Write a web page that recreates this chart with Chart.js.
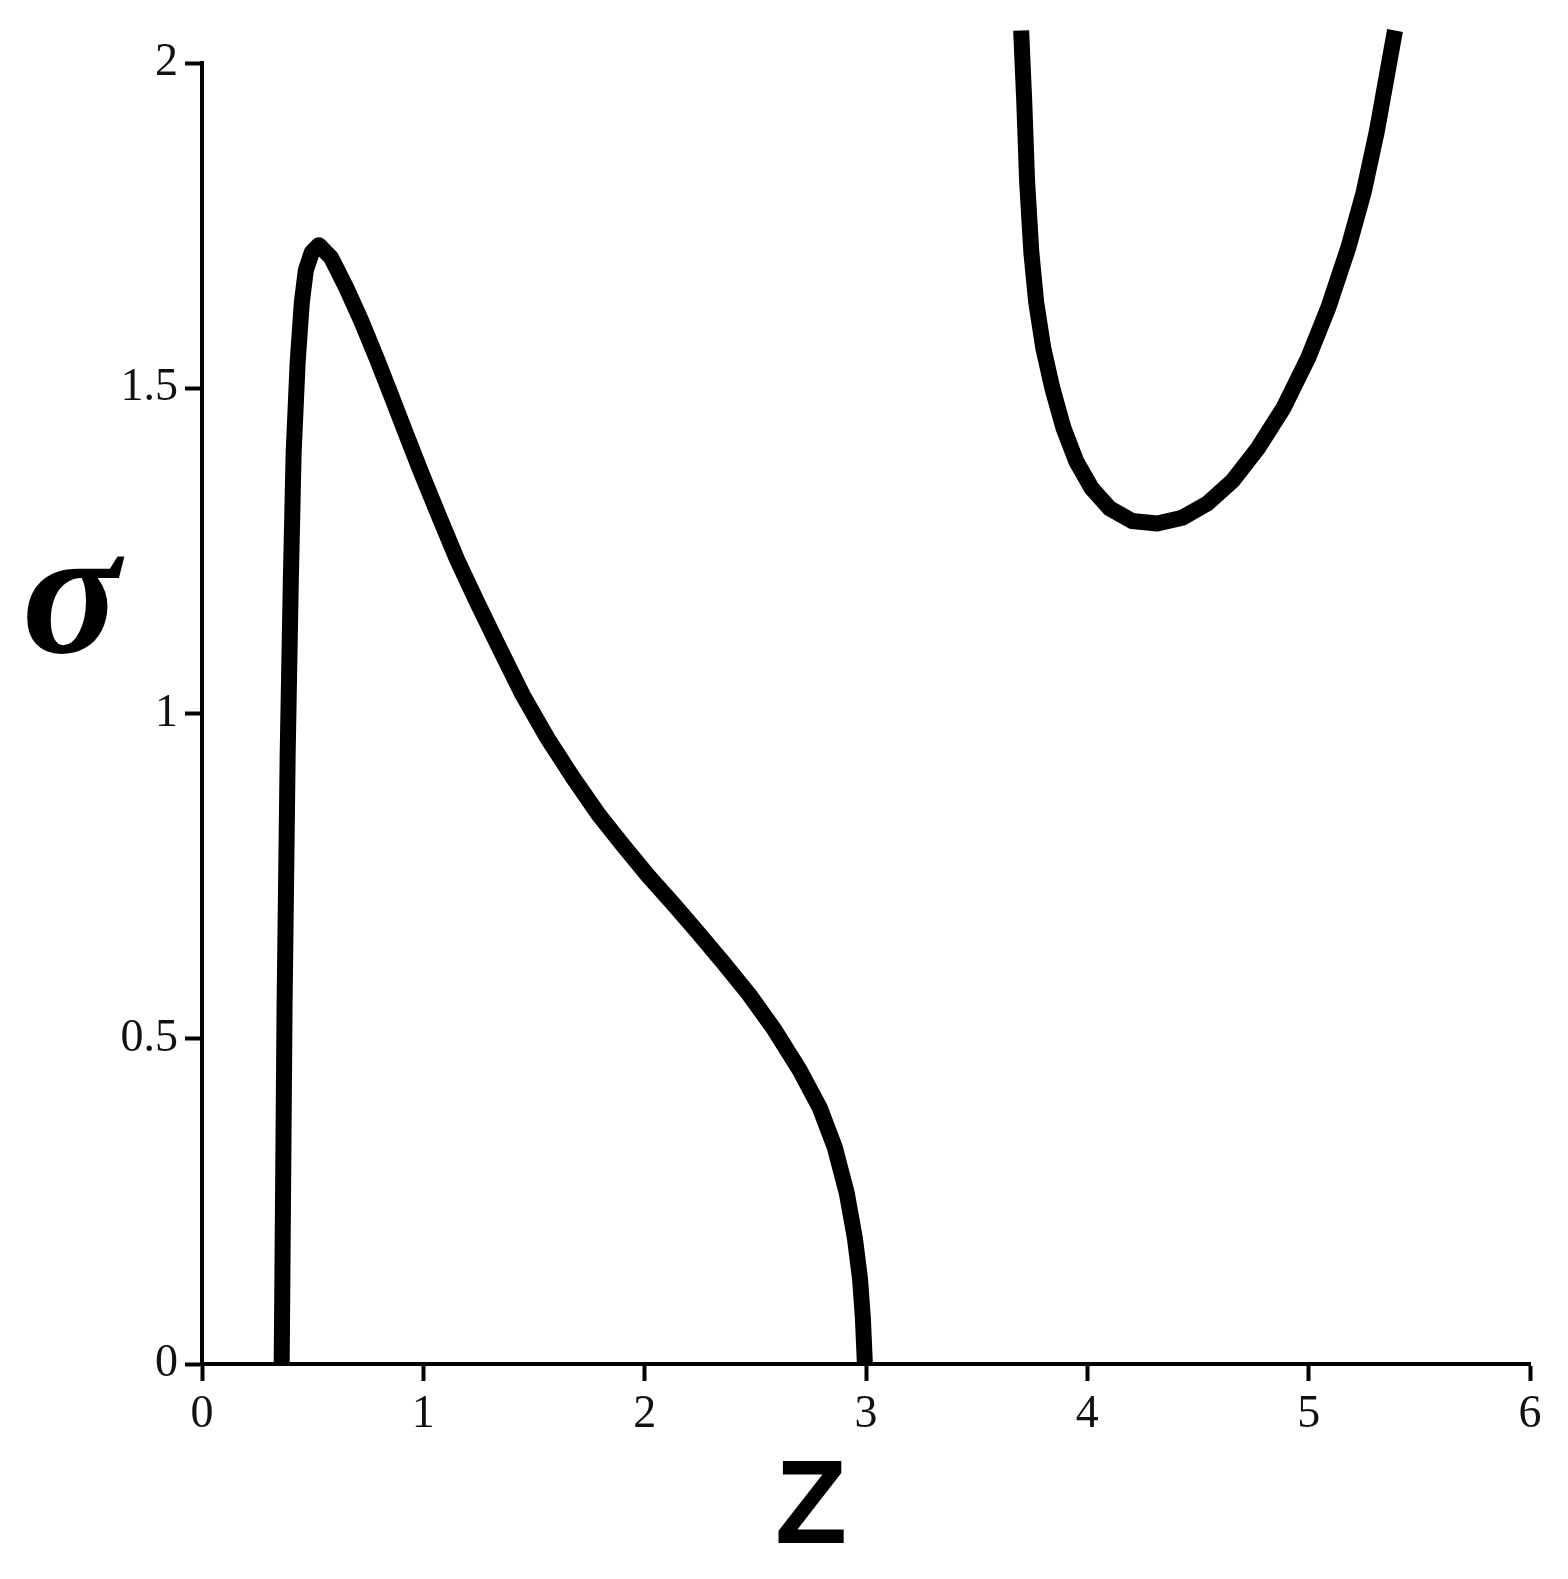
<!DOCTYPE html>
<html>
<head>
<meta charset="utf-8">
<script src="https://cdn.jsdelivr.net/npm/chart.js@4/dist/chart.umd.min.js"></script>
<style>
  html, body { margin: 0; padding: 0; background: #fff; }
  canvas { display: block; }
</style>
</head>
<body>
<canvas id="sigmaChart" width="1568" height="1579"></canvas>
<script>
// values (z, sigma)
const branchZ = [0.36, 0.373, 0.387, 0.401, 0.414, 0.432, 0.451, 0.469, 0.496, 0.528, 0.583, 0.651, 0.719, 0.788, 0.856, 0.924, 0.992, 1.07, 1.152, 1.243, 1.343, 1.448, 1.561, 1.675, 1.789, 1.903, 2.017, 2.13, 2.244, 2.358, 2.472, 2.586, 2.7, 2.791, 2.859, 2.913, 2.95, 2.973, 2.986, 2.995];
const branchSigma = [0, 0.549, 0.936, 1.199, 1.4, 1.539, 1.632, 1.681, 1.709, 1.72, 1.701, 1.655, 1.604, 1.547, 1.488, 1.428, 1.369, 1.304, 1.237, 1.171, 1.101, 1.029, 0.962, 0.902, 0.846, 0.797, 0.75, 0.707, 0.662, 0.616, 0.568, 0.514, 0.452, 0.394, 0.333, 0.263, 0.193, 0.131, 0.07, 0];

const upperZ = [3.701, 3.715, 3.728, 3.747, 3.769, 3.801, 3.842, 3.892, 3.951, 4.02, 4.102, 4.202, 4.316, 4.429, 4.543, 4.657, 4.771, 4.885, 4.998, 5.089, 5.18, 5.249, 5.308, 5.353, 5.39];
const upperSigma = [2.05, 1.941, 1.817, 1.709, 1.632, 1.562, 1.5, 1.439, 1.387, 1.346, 1.315, 1.296, 1.292, 1.301, 1.323, 1.358, 1.408, 1.469, 1.547, 1.624, 1.717, 1.802, 1.895, 1.98, 2.05];

const xTickLabels = ["0", "1", "2", "3", "4", "5", "6"];
const yTickLabels = ["0", "0.5", "1", "1.5", "2"];

function toPoints(xs, ys) {
  return xs.map((x, i) => ({ x: x, y: ys[i] }));
}

// axis names drawn by hand so they can sit where the original has them
const axisNames = {
  id: "axisNames",
  afterDraw(chart) {
    const c = chart.ctx;
    c.save();
    c.fillStyle = "#000";
    c.textAlign = "center";
    c.textBaseline = "alphabetic";
    c.font = "italic bold 182px 'Liberation Serif'";
    c.fillText("σ", 71, 652);
    c.font = "bold 118px 'Liberation Sans'";
    c.fillText("Z", 811, 1543);
    c.restore();
  }
};

const lineStyle = {
  borderColor: "#000",
  borderWidth: 16,
  borderJoinStyle: "round",
  pointRadius: 0,
  fill: false,
  showLine: true,
  tension: 0,
  clip: false
};

const tickFont = { family: "'Liberation Serif'", size: 46 };

new Chart(document.getElementById("sigmaChart").getContext("2d"), {
  type: "scatter",
  data: {
    datasets: [
      Object.assign({ label: "branch 1", data: toPoints(branchZ, branchSigma) }, lineStyle),
      Object.assign({ label: "branch 2", data: toPoints(upperZ, upperSigma) }, lineStyle)
    ]
  },
  options: {
    responsive: false,
    animation: false,
    layout: { padding: { left: 0, top: 63, right: 38, bottom: 0 } },
    plugins: { legend: { display: false }, tooltip: { enabled: false } },
    scales: {
      x: {
        type: "linear",
        min: 0,
        max: 6,
        afterFit: (s) => { s.height = 215; },
        afterBuildTicks: (s) => { s.ticks = xTickLabels.map((t) => ({ value: Number(t) })); },
        ticks: {
          color: "#111",
          font: tickFont,
          padding: 6,
          maxRotation: 0,
          callback: (v) => xTickLabels.find((t) => Number(t) === v)
        },
        grid: { drawOnChartArea: false, tickLength: 17, tickWidth: 4, tickColor: "#000" },
        border: { color: "#000", width: 4 }
      },
      y: {
        type: "linear",
        min: 0,
        max: 2,
        afterFit: (s) => { s.width = 202; },
        afterBuildTicks: (s) => { s.ticks = yTickLabels.map((t) => ({ value: Number(t) })); },
        ticks: {
          color: "#111",
          font: tickFont,
          padding: 7,
          callback: (v) => yTickLabels.find((t) => Number(t) === v)
        },
        grid: { drawOnChartArea: false, tickLength: 17, tickWidth: 4, tickColor: "#000" },
        border: { color: "#000", width: 4 }
      }
    }
  },
  plugins: [axisNames]
});
</script>
</body>
</html>
